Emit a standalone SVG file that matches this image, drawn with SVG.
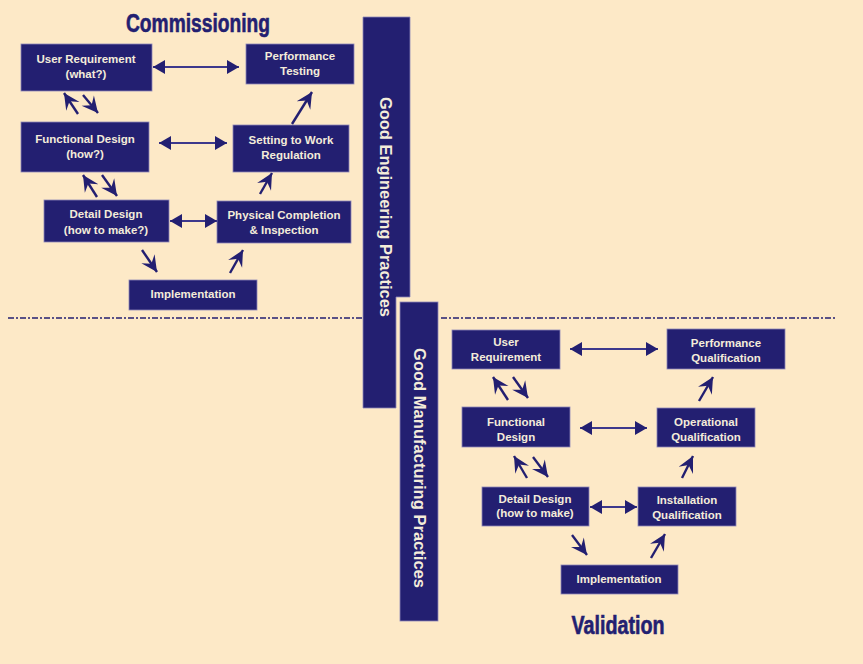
<svg xmlns="http://www.w3.org/2000/svg" width="863" height="664" viewBox="0 0 863 664">
<defs>
<style>
.bg{fill:#FDE9C7}
.box{fill:#231F71;stroke:#8C86B8;stroke-width:0.8}
.bar{fill:#231F71;stroke:#8C86B8;stroke-width:0.8}
.t{font-family:"Liberation Sans",Arial,sans-serif;font-weight:bold;font-size:11.5px;fill:#F4ECDA;text-anchor:middle;dominant-baseline:central}
.title{font-family:"Liberation Sans",Arial,sans-serif;font-weight:bold;font-size:25px;fill:#231F71;text-anchor:middle;stroke:#231F71;stroke-width:0.6}
.vt{font-family:"Liberation Sans",Arial,sans-serif;font-weight:bold;font-size:16px;fill:#F4ECDA;text-anchor:middle;dominant-baseline:central}
.h{stroke:#3D388C;stroke-width:2;fill:none}
.d{stroke:#231F71;stroke-width:2.4;fill:none}
</style>
<marker id="tri" markerUnits="userSpaceOnUse" markerWidth="14" markerHeight="16" viewBox="-13 -8 14 16" refX="0" refY="0" orient="auto-start-reverse">
<path d="M0,0 L-12,-7 L-12,7 Z" fill="#231F71"/>
</marker>
<marker id="barb" markerUnits="userSpaceOnUse" markerWidth="20" markerHeight="20" viewBox="-19 -10 20 20" refX="0" refY="0" orient="auto">
<path d="M0,0 L-16,-8 L-10,0 L-16,8 Z" fill="#231F71"/>
</marker>
</defs>
<rect class="bg" x="0" y="0" width="863" height="664"/>

<g id="divider">
<line x1="8" y1="318" x2="363" y2="318" stroke="#231F71" stroke-width="1.3" stroke-dasharray="6 2 2 2"/>
<line x1="441" y1="318" x2="835" y2="318" stroke="#231F71" stroke-width="1.3" stroke-dasharray="6 2 2 2"/>
</g>

<g id="commissioning-title"><text class="title" x="198" y="32" textLength="144" lengthAdjust="spacingAndGlyphs">Commissioning</text></g>
<g id="validation-title"><text class="title" x="618" y="634" textLength="93" lengthAdjust="spacingAndGlyphs">Validation</text></g>

<g id="gep-bar">
<path class="bar" d="M363,17 L410,17 L410,297 L396,297 L396,408 L363,408 Z"/>
<text class="vt" transform="translate(385,207) rotate(90)" textLength="220" lengthAdjust="spacingAndGlyphs">Good Engineering Practices</text>
</g>
<g id="gmp-bar">
<rect class="bar" x="400" y="302" width="38" height="319"/>
<text class="vt" transform="translate(419,468) rotate(90)" textLength="240" lengthAdjust="spacingAndGlyphs">Good Manufacturing Practices</text>
</g>

<g id="c-user-req"><rect class="box" x="21" y="44" width="131" height="47"/><text class="t" x="86" y="59">User Requirement</text><text class="t" x="86" y="74">(what?)</text></g>
<g id="c-perf-test"><rect class="box" x="246" y="44" width="108" height="40"/><text class="t" x="300" y="56">Performance</text><text class="t" x="300" y="71">Testing</text></g>
<g id="c-func-design"><rect class="box" x="21" y="122" width="128" height="50"/><text class="t" x="85" y="139">Functional Design</text><text class="t" x="85" y="154">(how?)</text></g>
<g id="c-setting"><rect class="box" x="233" y="125" width="116" height="47"/><text class="t" x="291" y="140">Setting to Work</text><text class="t" x="291" y="155">Regulation</text></g>
<g id="c-detail-design"><rect class="box" x="44" y="200" width="125" height="42"/><text class="t" x="106" y="214">Detail Design</text><text class="t" x="106" y="230">(how to make?)</text></g>
<g id="c-physical"><rect class="box" x="217" y="201" width="134" height="42"/><text class="t" x="284" y="215">Physical Completion</text><text class="t" x="284" y="230">&amp; Inspection</text></g>
<g id="c-impl"><rect class="box" x="129" y="280" width="128" height="30"/><text class="t" x="193" y="294">Implementation</text></g>

<g id="v-user-req"><rect class="box" x="452" y="330" width="108" height="39"/><text class="t" x="506" y="342">User</text><text class="t" x="506" y="357">Requirement</text></g>
<g id="v-pq"><rect class="box" x="667" y="329" width="118" height="40"/><text class="t" x="726" y="343">Performance</text><text class="t" x="726" y="358">Qualification</text></g>
<g id="v-func-design"><rect class="box" x="462" y="407" width="108" height="40"/><text class="t" x="516" y="422">Functional</text><text class="t" x="516" y="437">Design</text></g>
<g id="v-oq"><rect class="box" x="657" y="408" width="98" height="39"/><text class="t" x="706" y="422">Operational</text><text class="t" x="706" y="437">Qualification</text></g>
<g id="v-detail-design"><rect class="box" x="482" y="487" width="107" height="39"/><text class="t" x="535" y="499">Detail Design</text><text class="t" x="535" y="513">(how to make)</text></g>
<g id="v-iq"><rect class="box" x="638" y="487" width="98" height="39"/><text class="t" x="687" y="500">Installation</text><text class="t" x="687" y="515">Qualification</text></g>
<g id="v-impl"><rect class="box" x="561" y="565" width="117" height="29"/><text class="t" x="619" y="579">Implementation</text></g>

<g id="connectors">
<line class="h" x1="153" y1="67" x2="239" y2="67" marker-start="url(#tri)" marker-end="url(#tri)"/>
<line class="h" x1="159" y1="143" x2="227" y2="143" marker-start="url(#tri)" marker-end="url(#tri)"/>
<line class="h" x1="170" y1="221" x2="217" y2="221" marker-start="url(#tri)" marker-end="url(#tri)"/>
<line class="d" x1="78" y1="114" x2="64" y2="93" marker-end="url(#barb)"/>
<line class="d" x1="83" y1="95" x2="98" y2="113" marker-end="url(#barb)"/>
<line class="d" x1="97" y1="197" x2="83" y2="175" marker-end="url(#barb)"/>
<line class="d" x1="102" y1="175" x2="117" y2="196" marker-end="url(#barb)"/>
<line class="d" x1="142" y1="250" x2="157" y2="272" marker-end="url(#barb)"/>
<line class="d" x1="230" y1="273" x2="243" y2="250" marker-end="url(#barb)"/>
<line class="d" x1="260" y1="194" x2="272" y2="173" marker-end="url(#barb)"/>
<line class="d" x1="292" y1="124" x2="312" y2="92" marker-end="url(#barb)"/>

<line class="h" x1="570" y1="349" x2="658" y2="349" marker-start="url(#tri)" marker-end="url(#tri)"/>
<line class="h" x1="580" y1="428" x2="647" y2="428" marker-start="url(#tri)" marker-end="url(#tri)"/>
<line class="h" x1="590" y1="507" x2="637" y2="507" marker-start="url(#tri)" marker-end="url(#tri)"/>
<line class="d" x1="508" y1="400" x2="493" y2="377" marker-end="url(#barb)"/>
<line class="d" x1="513" y1="377" x2="528" y2="398" marker-end="url(#barb)"/>
<line class="d" x1="527" y1="478" x2="514" y2="456" marker-end="url(#barb)"/>
<line class="d" x1="533" y1="457" x2="548" y2="477" marker-end="url(#barb)"/>
<line class="d" x1="572" y1="535" x2="587" y2="555" marker-end="url(#barb)"/>
<line class="d" x1="651" y1="558" x2="665" y2="534" marker-end="url(#barb)"/>
<line class="d" x1="682" y1="478" x2="693" y2="456" marker-end="url(#barb)"/>
<line class="d" x1="699" y1="401" x2="713" y2="377" marker-end="url(#barb)"/>
</g>
</svg>
